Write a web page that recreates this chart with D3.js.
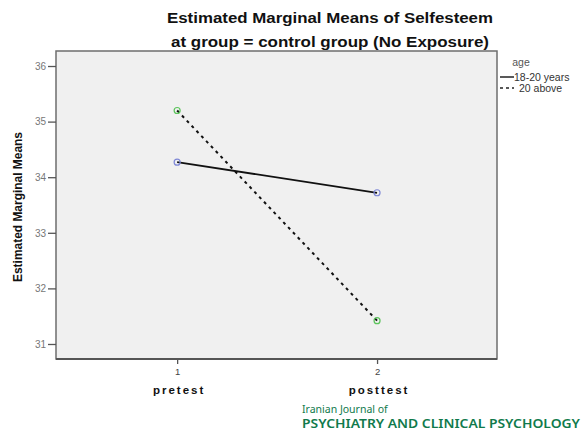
<!DOCTYPE html>
<html>
<head>
<meta charset="utf-8">
<script src="https://cdn.jsdelivr.net/npm/d3@7"></script>
<style>
  body { margin: 0; background: #fff; }
  svg text { font-family: "Liberation Sans", Arial, sans-serif; }
</style>
</head>
<body>
<div id="chart"></div>
<script>
// data
var times = [1, 2];
var timeLabels = ["pretest", "posttest"];
var seriesNames = ["18-20 years", "20 above"];
var young = [34.27, 33.72];
var older = [35.2, 31.42];
var yTicks = [31, 32, 33, 34, 35, 36];

var W = 587, H = 431;
// frame of plot area
var margin = {top: 51, right: 90, bottom: 72, left: 56};
var width = W - margin.left - margin.right,
    height = H - margin.top - margin.bottom;

var svg = d3.select("#chart")
  .append("svg")
    .attr("width", W)
    .attr("height", H);

var g = svg.append("g")
    .attr("transform", "translate(" + margin.left + "," + margin.top + ")");

var x = d3.scaleLinear()
    .domain([0.394, 2.6])
    .range([0, width]);

var y = d3.scaleLinear()
    .domain([30.73, 36.27])
    .range([height, 0]);

// plot background + frame
g.append("rect")
    .attr("width", width)
    .attr("height", height)
    .attr("fill", "#f0f0f0")
    .attr("stroke", "#6e6e6e")
    .attr("stroke-width", 1.5);

// y axis
var yAxis = g.append("g")
    .call(d3.axisLeft(y).tickValues(yTicks).tickSize(8).tickPadding(2).tickFormat(d3.format("d")));
yAxis.select(".domain").remove();
yAxis.selectAll("line").attr("stroke", "#555").attr("stroke-width", 1.3);
yAxis.selectAll("text").attr("fill", "#777").style("font-size", "10px");

// x axis
var xAxis = g.append("g")
    .attr("transform", "translate(0," + height + ")")
    .call(d3.axisBottom(x).tickValues(times).tickSize(5).tickPadding(4).tickFormat(d3.format("d")));
xAxis.select(".domain").remove();
xAxis.selectAll("line").attr("stroke", "#555").attr("stroke-width", 1.3);
xAxis.selectAll("text").attr("fill", "#444").style("font-size", "9.5px");

g.append("line")
    .attr("x1", 0).attr("x2", width)
    .attr("y1", height).attr("y2", height)
    .attr("stroke", "#555").attr("stroke-width", 2);

// category labels
g.selectAll(".cat")
  .data(times)
  .enter().append("text")
    .attr("class", "cat")
    .attr("x", function(d) { return x(d) + 2; })
    .attr("y", height + 35)
    .attr("text-anchor", "middle")
    .style("font-size", "11.5px")
    .style("font-weight", "bold")
    .style("letter-spacing", "2px")
    .attr("fill", "#111")
    .text(function(d, i) { return timeLabels[i]; });

// lines
var line = d3.line()
    .x(function(d, i) { return x(times[i]); })
    .y(function(d) { return y(d); });

g.append("path")
    .datum(young)
    .attr("d", line)
    .attr("fill", "none")
    .attr("stroke", "#111")
    .attr("stroke-width", 1.8);

g.append("path")
    .datum(older)
    .attr("d", line)
    .attr("fill", "none")
    .attr("stroke", "#111")
    .attr("stroke-width", 2)
    .attr("stroke-dasharray", "3,4");

// markers
g.selectAll(".pY")
  .data(young)
  .enter().append("circle")
    .attr("cx", function(d, i) { return x(times[i]); })
    .attr("cy", function(d) { return y(d); })
    .attr("r", 3)
    .attr("fill", "none")
    .attr("stroke", "#7f88d6")
    .attr("stroke-width", 1.2);

g.selectAll(".pO")
  .data(older)
  .enter().append("circle")
    .attr("cx", function(d, i) { return x(times[i]); })
    .attr("cy", function(d) { return y(d); })
    .attr("r", 3)
    .attr("fill", "none")
    .attr("stroke", "#5cc45c")
    .attr("stroke-width", 1.2);

// titles
svg.append("text")
    .attr("x", 330).attr("y", 23)
    .attr("text-anchor", "middle")
    .style("font-size", "14px")
    .style("font-weight", "bold")
    .attr("textLength", 326)
    .attr("lengthAdjust", "spacingAndGlyphs")
    .attr("fill", "#111")
    .text("Estimated Marginal Means of Selfesteem");

svg.append("text")
    .attr("x", 330).attr("y", 47)
    .attr("text-anchor", "middle")
    .style("font-size", "14px")
    .style("font-weight", "bold")
    .attr("textLength", 318)
    .attr("lengthAdjust", "spacingAndGlyphs")
    .attr("fill", "#111")
    .text("at group = control group (No Exposure)");

// y axis title
svg.append("text")
    .attr("transform", "translate(22," + (margin.top + height / 2 + 2) + ") rotate(-90)")
    .attr("text-anchor", "middle")
    .style("font-size", "12px")
    .style("font-weight", "bold")
    .attr("textLength", 150)
    .attr("lengthAdjust", "spacingAndGlyphs")
    .attr("fill", "#111")
    .text("Estimated Marginal Means");

// legend
var lx = margin.left + width + 3;
svg.append("text")
    .attr("x", 521).attr("y", 66)
    .attr("text-anchor", "middle")
    .style("font-size", "10.5px")
    .attr("fill", "#555")
    .text("age");

var legend = svg.selectAll(".leg")
  .data(seriesNames)
  .enter().append("g")
    .attr("transform", function(d, i) { return "translate(" + lx + "," + (77 + i * 11) + ")"; });

legend.append("line")
    .attr("x1", 0).attr("x2", 14)
    .attr("stroke", "#222")
    .attr("stroke-width", 1.5)
    .attr("stroke-dasharray", function(d, i) { return i ? "3,3" : null; });

legend.append("text")
    .attr("x", function(d, i) { return i ? 19 : 14; })
    .attr("y", 3.5)
    .style("font-size", "10.5px")
    .attr("fill", "#333")
    .text(function(d) { return d; });

// watermark
svg.append("text")
    .attr("x", 302).attr("y", 413)
    .style("font-family", "'Noto Sans', sans-serif")
    .style("font-size", "10.5px")
    .attr("fill", "#107a4c")
    .text("Iranian Journal of");

svg.append("text")
    .attr("x", 302).attr("y", 428)
    .style("font-family", "'Noto Sans', sans-serif")
    .style("font-size", "12.5px")
    .style("font-weight", "600")
    .attr("textLength", 278)
    .attr("lengthAdjust", "spacingAndGlyphs")
    .attr("fill", "#107a4c")
    .text("PSYCHIATRY AND CLINICAL PSYCHOLOGY");
</script>
</body>
</html>
